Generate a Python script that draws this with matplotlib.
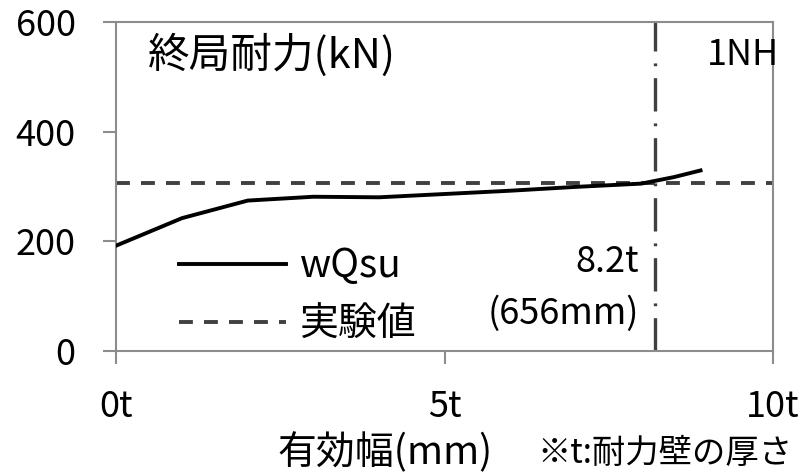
import numpy as np
import matplotlib
matplotlib.use('Agg')
from matplotlib import pyplot as plt

plt.rcParams['font.family'] = ['Noto Sans CJK JP', 'DejaVu Sans']
plt.rcParams['lines.scale_dashes'] = False

# 有効幅 (t) と終局耐力 wQsu (kN)
eff_width = [0, 1, 2, 3, 4, 5, 6, 7, 8, 8.5, 8.9]
wqsu = [192, 242, 274, 281, 280, 286, 292, 299, 305, 317, 329]

test_value = 306      # 実験値 (kN)
limit_width = 8.2     # 実験値と交わる有効幅 (t)

xticks = [0, 5, 10]
xtick_labels = ['0t', '5t', '10t']
yticks = [0, 200, 400, 600]

spine_gray = '#8c8c8c'
line_gray = '#404040'

fig = plt.figure(figsize=(8.06, 4.73), dpi=100)
ax = fig.add_axes([0.1445, 0.2586, 0.8142, 0.6949])

ax.plot(eff_width, wqsu, color='black', lw=2.8, label='wQsu', zorder=3)
ax.axhline(test_value, color=line_gray, lw=2.8, dashes=(10, 8), label='実験値', zorder=2)
ax.axvline(limit_width, color=line_gray, lw=2.4, dashes=(24, 8.6, 2, 8.6), zorder=2)

ax.set_xlim(0, 10)
ax.set_ylim(0, 600)
ax.set_xticks(xticks)
ax.set_xticklabels(xtick_labels)
ax.set_yticks(yticks)

for s in ax.spines.values():
    s.set_color(spine_gray)
    s.set_linewidth(1.5)

ax.tick_params(axis='both', direction='out', length=9.4, width=1.5, color=spine_gray,
               labelsize=26)
ax.tick_params(axis='y', pad=20)
ax.tick_params(axis='x', pad=18)

ax.set_xlabel('有効幅(mm)', fontsize=28, labelpad=0)
ax.xaxis.set_label_coords(0.41, -0.25)

ax.text(0.048, 0.9, '終局耐力(kN)', transform=ax.transAxes, fontsize=30, va='center', ha='left')
ax.text(0.899, 0.9, '1NH', transform=ax.transAxes, fontsize=26, va='center', ha='left')
ax.text(7.97, 162, '8.2t', fontsize=26, ha='right', va='center')
ax.text(7.97, 68, '(656mm)', fontsize=26, ha='right', va='center')
fig.text(0.667, 0.042, '※t:耐力壁の厚さ', fontsize=24, ha='left', va='center')

ax.legend(loc='center left', bbox_to_anchor=(0.065, 0.168), frameon=False, fontsize=28,
          borderpad=0, handlelength=2.75, handletextpad=0.36, labelspacing=0.47)

fig.savefig('out.png', dpi=100)
